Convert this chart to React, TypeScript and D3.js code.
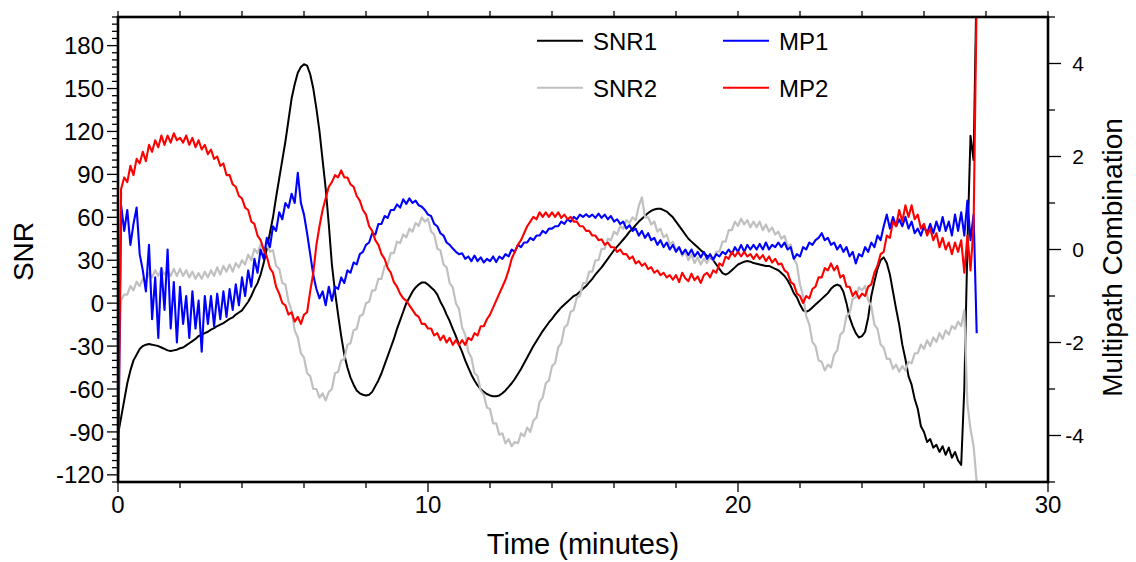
import React from "react";
import * as d3 from "d3";

// sampling interval of the series (minutes)
const SAMPLE_STEP_MIN = 0.1;

const snr1 = [
  -92, -80, -68, -56, -47, -40, -36, -32, -30, -29,
  -28.6, -29, -29.5, -30, -31, -32, -33, -33.5, -33, -32.5,
  -31.5, -31, -29.5, -28, -26.5, -25, -23, -22, -21, -20,
  -18.5, -17.5, -16, -15, -14, -12.5, -11, -10, -8, -6.5,
  -5, -2, 1, 5, 10, 14, 20, 28, 38, 49,
  60, 74, 87, 100, 113, 128, 143, 153, 161, 165,
  167, 166, 160, 150, 136, 120, 100, 80, 55, 27,
  8, -8, -23, -36, -45, -52, -57, -61, -63, -64,
  -64.5, -64, -62, -58, -54, -49, -43, -37, -31, -25,
  -18, -12, -6, 0, 4, 8, 11, 13, 14.5, 14.5,
  13, 11, 9, 6, 1, -3, -8, -12.5, -18, -23,
  -29, -34, -40, -45, -50, -54, -57.5, -60, -62, -63.5,
  -64.5, -65, -65, -64.5, -63, -61, -58.5, -56, -53, -49.5,
  -46, -42, -38, -34, -30, -26.5, -23, -19.5, -16.5, -13.5,
  -11, -8, -5.5, -3, -1, 1, 3, 5, 6, 8,
  10, 12, 14.5, 17, 20, 22.5, 25, 28, 31, 34,
  37, 39.5, 42, 44.5, 47, 50, 52, 54.5, 57, 59,
  61, 63, 64.5, 65.5, 66, 66, 65, 64, 62, 60,
  57, 54, 51, 48, 45, 43, 41, 39, 37, 35,
  33, 32, 30, 27, 24, 21, 20, 21, 23, 25,
  27, 28, 29, 29.5, 29, 28, 27.5, 27, 26.5, 26,
  26, 25, 24, 23, 21, 19, 16, 12, 7, 4,
  -1, -5, -6, -5, -3, -1, 1, 3, 5, 7,
  10, 12, 13, 12, 8, 0, -10, -16, -21, -24,
  -23, -20, -10, 5, 15, 24, 30, 32, 28, 20,
  8, -4, -15, -29, -39, -51, -57, -67, -74, -86,
  -90, -97, -95, -101, -99, -104, -100, -106, -101, -108,
  -104, -110, -113, -60, 40, 117, 100, 230,
];

const snr2 = [
  -48, 2, 6, 6, 12, 9, 15, 12, 17, 15,
  21, 18, 23, 19, 24, 20, 23, 19, 24, 19,
  24, 19, 23, 18, 22, 17, 21, 17, 22, 18,
  23, 19, 25, 20, 26, 22, 27, 22, 28, 25,
  30, 27, 34, 30, 38, 35, 41, 37, 41, 36,
  37, 26, 24, 14, 13, 1, -5, -19, -24, -35,
  -38, -49, -51, -60, -60, -66, -63, -68, -62, -60,
  -49, -48, -40, -39, -29, -28, -19, -18, -9, -8,
  0, 1, 9, 9, 17, 17, 26, 27, 35, 35,
  43, 42, 48, 46, 52, 50, 56, 54, 60, 57,
  59, 50, 48, 38, 37, 27, 25, 14, 11, 0,
  -4, -17, -22, -34, -38, -49, -51, -61, -64, -73,
  -74, -84, -84, -92, -91, -98, -95, -100, -97, -98,
  -91, -93, -87, -90, -82, -80, -69, -66, -56, -54,
  -44, -42, -31, -28, -17, -15, -6, -5, 4, 5,
  14, 14, 22, 22, 30, 30, 38, 38, 45, 44,
  50, 48, 54, 52, 58, 56, 60, 58, 68, 74,
  60, 60, 55, 57, 50, 52, 46, 48, 41, 43,
  37, 39, 33, 36, 30, 34, 28, 32, 27, 31,
  28, 33, 30, 36, 36, 43, 43, 51, 51, 57,
  54, 59, 55, 58, 53, 57, 53, 57, 51, 55,
  50, 53, 48, 50, 45, 47, 40, 41, 31, 27,
  13, 5, -9, -15, -27, -30, -40, -41, -47, -43,
  -45, -36, -33, -22, -20, -9, -7, 3, 4, 11,
  9, 12, 2, -2, -15, -18, -29, -31, -39, -39,
  -46, -43, -48, -44, -47, -41, -42, -35, -35, -29,
  -32, -26, -30, -24, -27, -21, -25, -19, -22, -16,
  -18, -13, -16, -5, -70, -88, -100, -125,
];

const mp1 = [
  -5, 0.95, 0.4, 0.85, 0.1, 0.55, 0.9, -0.1, -0.45, -0.9,
  0.1, -1.5, -0.6, -1.9, -0.4, -1.3, 0.0, -1.7, -0.7, -2.0,
  -0.8, -1.6, -1.0, -1.9, -0.9, -1.7, -1.1, -2.2, -1.0, -1.6,
  -1.0, -1.65, -0.95, -1.5, -0.9, -1.45, -0.85, -1.3, -0.75, -1.2,
  -0.6, -1.0, -0.45, -0.8, -0.2, -0.5, 0.0, -0.2, 0.25, 0.05,
  0.5, 0.4, 0.8, 0.65, 1.0, 0.9, 1.2, 1.0, 1.65, 1.0,
  0.75, 0.35, -0.1, -0.55, -0.85, -1.05, -0.9, -1.2, -0.8, -1.1,
  -0.8, -0.85, -0.6, -0.72, -0.45, -0.5, -0.28, -0.32, -0.1, -0.05,
  0.1, 0.15, 0.35, 0.32, 0.55, 0.55, 0.72, 0.68, 0.85, 0.85,
  0.97, 0.9, 1.08, 0.98, 1.1, 1.0, 1.05, 0.95, 0.92, 0.85,
  0.75, 0.72, 0.55, 0.5, 0.35, 0.3, 0.15, 0.1, 0.02, -0.05,
  -0.1, -0.08, -0.2, -0.15, -0.25, -0.13, -0.25, -0.17, -0.28, -0.2,
  -0.25, -0.15, -0.27, -0.15, -0.2, -0.1, -0.15, 0.0, -0.05, 0.1,
  0.05, 0.15, 0.15, 0.25, 0.2, 0.3, 0.3, 0.4, 0.35, 0.45,
  0.45, 0.5, 0.5, 0.6, 0.55, 0.65, 0.6, 0.7, 0.65, 0.75,
  0.7, 0.76, 0.7, 0.75, 0.68, 0.77, 0.68, 0.75, 0.65, 0.72,
  0.6, 0.65, 0.55, 0.6, 0.45, 0.52, 0.4, 0.45, 0.3, 0.4,
  0.25, 0.35, 0.2, 0.25, 0.1, 0.2, 0.05, 0.15, 0.0, 0.1,
  -0.05, 0.05, -0.1, 0.0, -0.12, 0.0, -0.15, -0.05, -0.17, -0.05,
  -0.2, -0.1, -0.22, -0.1, -0.15, -0.05, -0.1, 0.0, -0.1, 0.05,
  -0.05, 0.1, -0.05, 0.1, 0.0, 0.1, 0.0, 0.12, 0.0, 0.15,
  0.0, 0.1, 0.05, 0.15, 0.05, 0.15, 0.0, 0.05, -0.2, -0.1,
  -0.15, 0.05, 0.0, 0.15, 0.1, 0.2, 0.25, 0.35, 0.2, 0.25,
  0.1, 0.15, 0.0, 0.1, -0.05, 0.05, -0.15, -0.05, -0.3, -0.1,
  -0.15, 0.05, -0.05, 0.15, 0.05, 0.3, 0.2, 0.5, 0.75, 0.45,
  0.7, 0.5, 0.65, 0.5, 0.7, 0.45, 0.6, 0.35, 0.45, 0.3,
  0.5, 0.35, 0.55, 0.35, 0.6, 0.4, 0.7, 0.4, 0.6, 0.3,
  0.75, 0.4, 0.8, 0.3, 1.05, 0.2, 0.75, -1.8,
];

const mp2 = [
  -5, 1.3, 1.55, 1.45, 1.8, 1.6, 1.95, 1.85, 2.1, 1.9,
  2.25, 2.1, 2.35, 2.2, 2.45, 2.25, 2.45, 2.3, 2.5, 2.35,
  2.4, 2.3, 2.45, 2.25, 2.4, 2.2, 2.35, 2.15, 2.25, 2.05,
  2.15, 1.95, 2.0, 1.8, 1.85, 1.6, 1.6, 1.4, 1.35, 1.15,
  1.1, 0.9, 0.85, 0.6, 0.55, 0.3, 0.2, 0.0, -0.15, -0.4,
  -0.5, -0.8, -0.95, -1.15, -1.2, -1.4, -1.35, -1.55, -1.45, -1.6,
  -1.4, -1.35, -0.9, -0.5, 0.1, 0.5, 0.85, 1.1, 1.35, 1.45,
  1.6, 1.55, 1.7, 1.55, 1.55, 1.4, 1.35, 1.15, 1.05, 0.85,
  0.75, 0.5, 0.4, 0.2, 0.1, -0.1, -0.2, -0.4, -0.5, -0.7,
  -0.8, -0.95, -1.05, -1.1, -1.2, -1.3, -1.4, -1.45, -1.6, -1.6,
  -1.7, -1.7, -1.85, -1.8, -1.95, -1.85, -2.0, -1.9, -2.05, -1.95,
  -2.05, -1.95, -2.05, -1.9, -1.95, -1.8, -1.85, -1.65, -1.65, -1.5,
  -1.4, -1.25, -1.1, -0.95, -0.8, -0.65, -0.45, -0.2, -0.05, 0.1,
  0.2, 0.35, 0.5, 0.6, 0.7, 0.65, 0.8, 0.7, 0.8, 0.7,
  0.8, 0.7, 0.8, 0.68, 0.75, 0.65, 0.7, 0.6, 0.6, 0.5,
  0.5, 0.4, 0.4, 0.3, 0.3, 0.2, 0.22, 0.1, 0.15, 0.05,
  0.05, -0.05, 0.0, -0.1, -0.1, -0.2, -0.15, -0.3, -0.25, -0.35,
  -0.3, -0.42, -0.38, -0.5, -0.45, -0.55, -0.5, -0.6, -0.55, -0.65,
  -0.55, -0.7, -0.5, -0.62, -0.68, -0.52, -0.66, -0.58, -0.72, -0.55,
  -0.5, -0.6, -0.45, -0.5, -0.3, -0.35, -0.15, -0.2, -0.05, -0.15,
  -0.05, -0.15, -0.05, -0.15, -0.1, -0.2, -0.1, -0.2, -0.12, -0.25,
  -0.15, -0.28, -0.2, -0.32, -0.3, -0.45, -0.5, -0.7, -0.75, -0.95,
  -1.0, -1.15, -1.0, -1.05, -0.85, -0.8, -0.6, -0.6, -0.4, -0.45,
  -0.3, -0.45, -0.35, -0.6, -0.55, -0.8, -0.8, -1.0, -0.9, -1.05,
  -0.95, -1.0, -0.8, -0.75, -0.5, -0.35, -0.1, -0.05, 0.3, 0.25,
  0.6, 0.5, 0.85, 0.6, 0.95, 0.7, 0.95, 0.65, 0.75, 0.45,
  0.55, 0.3, 0.45, 0.2, 0.35, 0.05, 0.25, 0.0, 0.15, -0.1,
  0.15, -0.05, 0.2, -0.5, 0.3, -0.45, 0.5, 5.5,
];

const xMajorTicks = [0, 10, 20, 30];
const snrTickLabels = [-120, -90, -60, -30, 0, 30, 60, 90, 120, 150, 180];
const mpTickLabels = [-4, -2, 0, 2, 4];

const legendItems = [
  { name: "SNR1", color: "#000000", col: 0, row: 0 },
  { name: "SNR2", color: "#c0c0c0", col: 0, row: 1 },
  { name: "MP1", color: "#0000ff", col: 1, row: 0 },
  { name: "MP2", color: "#ff0000", col: 1, row: 1 },
];

const W = 1136;
const H = 562;
const L = 118;
const R = 1048;
const T = 17;
const B = 482;
const FONT = "'Liberation Sans', Arial, Helvetica, sans-serif";

export default function App() {
  const x = d3.scaleLinear().domain([0, 30]).range([L, R]);
  const yL = d3.scaleLinear().domain([-125, 200]).range([B, T]);
  const yR = d3.scaleLinear().domain([-5, 5]).range([B, T]);

  const path = (arr: number[], y: d3.ScaleLinear<number, number>) =>
    d3
      .line<number>()
      .x((_, i) => x(i * SAMPLE_STEP_MIN))
      .y((d) => y(d))(arr) || "";

  const series = [
    { data: snr1, y: yL, color: "#000000", w: 2 },
    { data: snr2, y: yL, color: "#c0c0c0", w: 2.2 },
    { data: mp1, y: yR, color: "#0000ff", w: 2.1 },
    { data: mp2, y: yR, color: "#ff0000", w: 2.1 },
  ];

  const leftMinor = d3.range(-125, 201, 5).filter((v) => v % 30 !== 0);
  const rightMinor = [-5, -3, -1, 1, 3, 5];
  const bottomMinor = d3.range(0, 31, 2).filter((v) => v % 10 !== 0);
  const topTicks = d3.range(0, 31, 2);

  return (
    <svg
      width={W}
      height={H}
      style={{ position: "absolute", left: 0, top: 0, background: "#fff" }}
      fontFamily={FONT}
    >
      <defs>
        <clipPath id="plotClip">
          <rect x={L} y={T} width={R - L} height={B - T} />
        </clipPath>
      </defs>
      <rect x={0} y={0} width={W} height={H} fill="#fff" />

      {/* series */}
      <g clipPath="url(#plotClip)" fill="none" strokeLinejoin="round">
        {series.map((s, i) => (
          <path key={i} d={path(s.data, s.y)} stroke={s.color} strokeWidth={s.w} />
        ))}
      </g>

      {/* frame */}
      <rect x={L} y={T} width={R - L} height={B - T} fill="none" stroke="#000" strokeWidth={2.6} />

      {/* ticks */}
      <g stroke="#000" strokeWidth={1.3}>
        {snrTickLabels.map((v) => (
          <line key={"lm" + v} x1={L - 11} x2={L} y1={yL(v)} y2={yL(v)} />
        ))}
        {leftMinor.map((v) => (
          <line key={"ln" + v} x1={L - 6} x2={L} y1={yL(v)} y2={yL(v)} />
        ))}
        {mpTickLabels.map((v) => (
          <line key={"rm" + v} x1={R} x2={R + 13} y1={yR(v)} y2={yR(v)} />
        ))}
        {rightMinor.map((v) => (
          <line key={"rn" + v} x1={R} x2={R + 7} y1={yR(v)} y2={yR(v)} />
        ))}
        {xMajorTicks.map((v) => (
          <line key={"bm" + v} x1={x(v)} x2={x(v)} y1={B} y2={B + 10} />
        ))}
        {bottomMinor.map((v) => (
          <line key={"bn" + v} x1={x(v)} x2={x(v)} y1={B} y2={B + 6} />
        ))}
        {topTicks.map((v) => (
          <line key={"tt" + v} x1={x(v)} x2={x(v)} y1={T} y2={T - 6} />
        ))}
      </g>

      {/* tick labels */}
      <g fontSize={24} fill="#000">
        {snrTickLabels.map((v) => (
          <text key={"lt" + v} x={104} y={yL(v)} dy="0.36em" textAnchor="end">
            {v}
          </text>
        ))}
        {xMajorTicks.map((v) => (
          <text key={"bt" + v} x={x(v)} y={513} textAnchor="middle">
            {v}
          </text>
        ))}
      </g>
      <g fontSize={21} fill="#000">
        {mpTickLabels.map((v) => (
          <text key={"rt" + v} x={1084} y={yR(v)} dy="0.36em" textAnchor="end">
            {v}
          </text>
        ))}
      </g>

      {/* axis titles */}
      <text x={(L + R) / 2} y={554} fontSize={29} textAnchor="middle">
        Time (minutes)
      </text>
      <text transform="translate(33,251.5) rotate(-90)" fontSize={28} textAnchor="middle">
        SNR
      </text>
      <text transform="translate(1122,257.5) rotate(-90)" fontSize={28} textAnchor="middle">
        Multipath Combination
      </text>

      {/* legend */}
      <g fontSize={24}>
        {legendItems.map((it) => {
          const lx = 537 + it.col * 186;
          const ly = 40.7 + it.row * 47;
          return (
            <g key={it.name}>
              <line x1={lx} x2={lx + 46} y1={ly} y2={ly} stroke={it.color} strokeWidth={2} />
              <text x={lx + 56} y={ly + 9} fill="#000">
                {it.name}
              </text>
            </g>
          );
        })}
      </g>
    </svg>
  );
}
